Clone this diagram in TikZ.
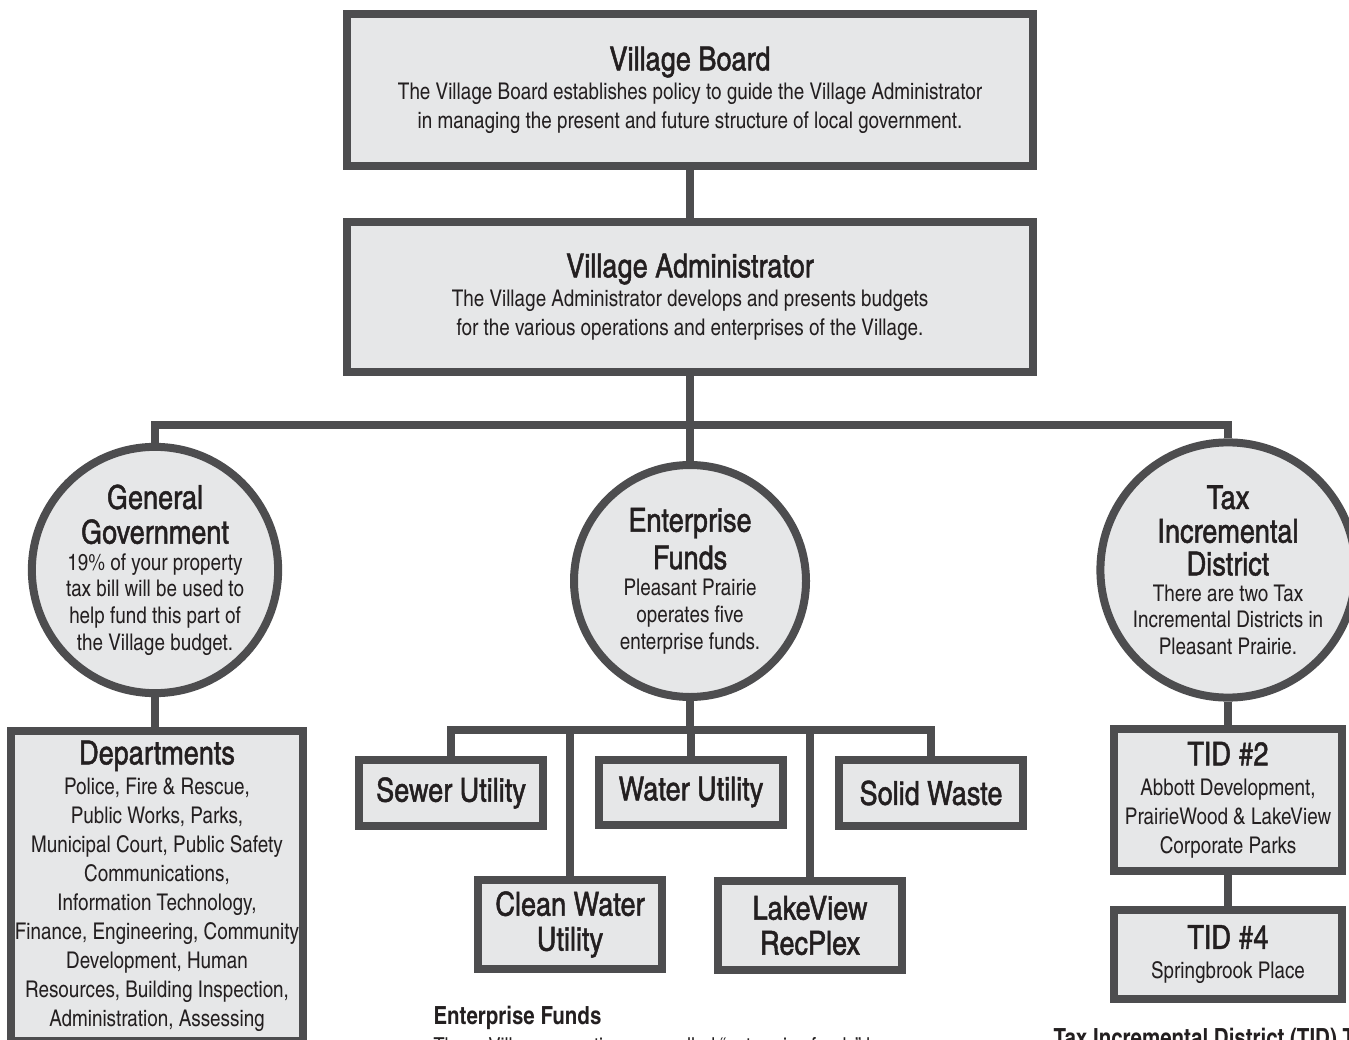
\documentclass[tikz,border=0pt]{standalone}
\usepackage{fontspec}
\setmainfont{texgyreheroscn}[Extension=.otf, UprightFont=*-regular, BoldFont=*-bold]
\newfontfamily\medfont{texgyreheroscn}[Extension=.otf, UprightFont=*-regular, FakeBold=1.4]
\usepackage[x11names]{xcolor}
\usepackage{tikz}
\usetikzlibrary{positioning}

\definecolor{boxgray}{RGB}{230,231,232}
\definecolor{linegray}{RGB}{77,77,79}
\definecolor{inkgray}{RGB}{35,31,32}

\newcommand{\hd}[1]{{\medfont\fontsize{33}{35}\selectfont #1}}

\begin{document}
\begin{tikzpicture}[x=1pt, y=-1pt,
	every node/.style={text=inkgray, font=\fontsize{23}{29}\selectfont, align=center},
	org/.style={draw=linegray, line width=8pt, fill=boxgray, inner sep=0pt},
	box/.style={org, rectangle},
	unit/.style={box, minimum width=184pt, font=\medfont\fontsize{33}{35}\selectfont},
	disc/.style={org, circle, minimum size=232pt, font=\fontsize{23}{26.7}\selectfont},
	link/.style={draw=linegray, line width=8pt}]%, every node/.style={draw=red}]
	\clip (0,0) rectangle (1349,1040);

	% top of the chart
	\node[box, minimum width=686pt, minimum height=152pt] (board) at (690,90)
		{\hd{Village Board}\\
		The Village Board establishes policy to guide the Village Administrator\\
		in managing the present and future structure of local government.};
	\node[box, minimum width=686pt, minimum height=150pt, below=48pt of board] (admin)
		{\hd{Village Administrator}\\
		The Village Administrator develops and presents budgets\\
		for the various operations and enterprises of the Village.};

	% the three branches
	\node[disc] (gen) at (155,570)
		{\hd{General}\\[8pt] \hd{Government}\\
		19\% of your property\\ tax bill will be used to\\
		help fund this part of\\ the Village budget.};
	\node[disc] (ent) at (690,581)
		{\hd{Enterprise}\\[6pt] \hd{Funds}\\
		Pleasant Prairie\\ operates five\\ enterprise funds.};
	\node[disc] (tid) at (1228,570)
		{\hd{Tax}\\[7pt] \hd{Incremental}\\[6pt] \hd{District}\\[-1pt]
		There are two Tax\\ Incremental Districts in\\ Pleasant Prairie.};

	% general government
	\node[box, minimum width=292pt, minimum height=310pt, anchor=north] (dept) at (157,727)
		{\hd{Departments}\\[1pt]
		Police, Fire \& Rescue,\\ Public Works, Parks,\\
		Municipal Court, Public Safety\\ Communications,\\
		Information Technology,\\ Finance, Engineering, Community\\
		Development, Human\\ Resources, Building Inspection,\\
		Administration, Assessing};

	% enterprise funds
	\node[unit, minimum height=66pt] (sewer) at (451,793) {Sewer Utility};
	\node[unit, minimum height=65pt] (water) at (691,792) {Water Utility};
	\node[unit, minimum height=66pt] (waste) at (931,793) {Solid Waste};
	\node[unit, minimum height=89pt] (clean) at (570,924.5) {Clean Water\\ Utility};
	\node[unit, minimum height=89pt] (rec) at (810,925.5) {LakeView\\ RecPlex};

	% tax incremental districts
	\node[box, minimum width=228pt, minimum height=142pt] (tid2) at (1228,800)
		{\hd{TID \#2}\\[1pt] Abbott Development,\\ PrairieWood \& LakeView\\ Corporate Parks};
	\node[box, minimum width=228pt, minimum height=89pt] (tid4) at (1228,954.5)
		{\hd{TID \#4}\\[1pt] Springbrook Place};

	% notes below the chart
	\node[anchor=base west, font=\bfseries\fontsize{25}{29}\selectfont] (entnote) at (430,1024) {Enterprise Funds};
	\node[anchor=base west, font=\fontsize{22}{27}\selectfont] (enttext) at (430,1053)
		{These Village operations are called “enterprise funds” because};
	\node[anchor=base west, font=\bfseries\fontsize{25}{29}\selectfont] (tidnote) at (1050,1046) {Tax Incremental District (TID) Tax};

	% connectors
	\coordinate (bus) at (690,425);
	\coordinate (ebus) at (690,730);
	\draw[link] (board) -- (admin);
	\draw[link] (admin.south) -- (ent.north);
	\draw[link] (gen.north) |- (bus) -| (tid.north);
	\draw[link] (gen.south) -- (gen.south |- dept.north);
	\draw[link] (ent.south) -- (ebus);
	\draw[link] (sewer.north) |- (ebus) -| (waste.north);
	\draw[link] (water.north) -- (water.north |- ebus);
	\draw[link] (clean.north) -- (clean.north |- ebus);
	\draw[link] (rec.north) -- (rec.north |- ebus);
	\draw[link] (tid.south) -- (tid2.north);
	\draw[link] (tid2) -- (tid4);
\end{tikzpicture}
\end{document}
